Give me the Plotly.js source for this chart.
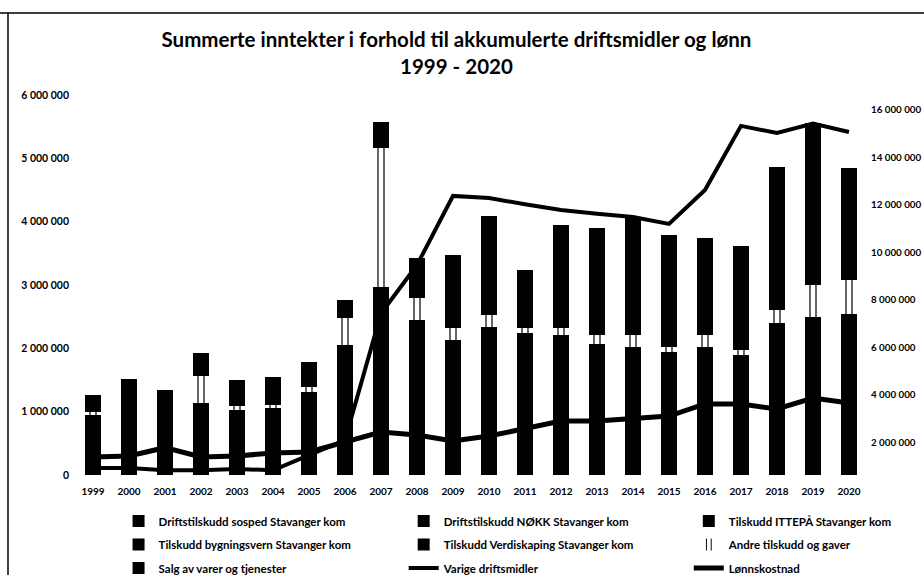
<!DOCTYPE html>
<html>
<head>
<meta charset="utf-8">
<script src="https://cdn.plot.ly/plotly-3.0.1.min.js"></script>
<style>html,body{margin:0;padding:0;background:#fff;}#chart{width:924px;height:575px;}</style>
</head>
<body>
<div id="chart"></div>
<script>
const years = ['1999','2000','2001','2002','2003','2004','2005','2006','2007','2008','2009','2010','2011','2012','2013','2014','2015','2016','2017','2018','2019','2020'];

const sosped       = [950000,1200000,1050000,1060000,1030000,1060000,1310000,1770000,2560000,2180000,2130000,2130000,2240000,2210000,2020000,2020000,1940000,2020000,1900000,2320000,2400000,2450000];
const nokk         = [0,0,0,0,0,0,0,150000,250000,150000,0,100000,0,0,50000,0,0,0,0,0,0,0];
const ittepa       = [0,0,0,0,0,0,0,130000,160000,120000,0,100000,0,0,0,0,0,0,0,0,0,0];
const bygningsvern = [0,0,0,80000,0,0,0,0,0,0,0,0,0,0,0,0,0,0,0,0,0,0];
const verdiskaping = [0,0,0,0,0,0,0,0,0,0,0,0,0,0,0,0,0,0,0,80000,100000,100000];
const andre        = [40000,0,0,430000,60000,50000,80000,430000,2200000,350000,190000,200000,80000,110000,140000,190000,80000,190000,80000,200000,500000,530000];
const salg         = [270000,320000,290000,350000,410000,430000,390000,280000,410000,630000,1150000,1560000,920000,1630000,1690000,1850000,1770000,1530000,1640000,2260000,2560000,1770000];

const varige       = [290000,300000,200000,200000,250000,200000,840000,1470000,6800000,8840000,11750000,11660000,11400000,11160000,11000000,10860000,10570000,12000000,14700000,14400000,14800000,14440000];
const lonn         = [760000,800000,1150000,760000,800000,930000,970000,1370000,1810000,1680000,1430000,1640000,1980000,2270000,2270000,2360000,2480000,2990000,2990000,2780000,3240000,3030000];

const leftTicks  = [0,1000000,2000000,3000000,4000000,5000000,6000000];
const rightTicks = [2000000,4000000,6000000,8000000,10000000,12000000,14000000,16000000];

const FONT = 'Lato, "Open Sans", sans-serif';
const black = '#000000';

function bar(name, y, legend, extra) {
  const t = {type:'bar', name:name, x:years, y:y, legend:legend, legendgroup:name,
    marker:{color:black, line:{width:0}}, hoverinfo:'skip'};
  if (extra) Object.assign(t.marker, extra);
  return t;
}

const traces = [
  bar('Driftstilskudd sosped Stavanger kom', sosped, 'legend'),
  bar('Driftstilskudd NØKK Stavanger kom', nokk, 'legend2'),
  bar('Tilskudd ITTEPÅ Stavanger kom', ittepa, 'legend3'),
  bar('Tilskudd bygningsvern Stavanger kom', bygningsvern, 'legend'),
  bar('Tilskudd Verdiskaping Stavanger kom', verdiskaping, 'legend2'),
  bar('Andre tilskudd og gaver', andre, 'legend3',
      {color:'#ffffff', pattern:{shape:'|', fgcolor:black, bgcolor:'#ffffff', size:6, solidity:0.2}}),
  bar('Salg av varer og tjenester', salg, 'legend'),
  {type:'scatter', mode:'lines', name:'Varige driftsmidler', x:years, y:varige, yaxis:'y2',
   legend:'legend2', legendgroup:'Varige', line:{color:black, width:4}, hoverinfo:'skip'},
  {type:'scatter', mode:'lines', name:'Lønnskostnad', x:years, y:lonn, yaxis:'y2',
   legend:'legend3', legendgroup:'Lonn', line:{color:black, width:5}, hoverinfo:'skip'}
];

const legendBase = {orientation:'v', yanchor:'top', xanchor:'left', y:-0.083,
  font:{family:FONT, size:11.5, color:black, weight:'bold'}, tracegroupgap:4.5,
  bgcolor:'rgba(0,0,0,0)', itemwidth:30, traceorder:'grouped'};

const layout = {
  width:924, height:575,
  margin:{l:75, r:57, t:95, b:100, autoexpand:false},
  paper_bgcolor:'#ffffff', plot_bgcolor:'#ffffff',
  separators:', ',
  barmode:'stack', bargap:0.58,
  font:{family:FONT, color:black, weight:'bold'},
  title:{text:'Summerte inntekter i forhold til akkumulerte driftsmidler og lønn<br>1999 - 2020',
    font:{family:FONT, size:20.5, color:black, weight:'bold'},
    xref:'container', x:0.494, xanchor:'center', yref:'container', y:0.918, yanchor:'top'},
  xaxis:{type:'category', showgrid:false, showline:false, zeroline:false, ticks:'', ticklabelstandoff:9,
    tickfont:{family:FONT, size:10, color:black, weight:'bold'}},
  yaxis:{range:[0,6000000], tickvals:leftTicks, tickformat:',d', showgrid:false, zeroline:false,
    showline:false, ticks:'', ticklabelstandoff:5,
    tickfont:{family:FONT, size:10.5, color:black, weight:'bold'}},
  yaxis2:{overlaying:'y', side:'right', range:[0,16000000], tickvals:rightTicks, tickformat:',d',
    showgrid:false, zeroline:false, showline:false, ticks:'', ticklabelshift:15, ticklabelstandoff:3,
    tickfont:{family:FONT, size:9.8, color:black, weight:'bold'}},
  legend:Object.assign({}, legendBase, {x:0.055}),
  legend2:Object.assign({}, legendBase, {x:0.415}),
  legend3:Object.assign({}, legendBase, {x:0.775}),
  showlegend:true,
  shapes:[
    {type:'line', xref:'paper', yref:'paper', x0:-0.0846, x1:-0.0846, y0:1.2158, y1:-0.27, line:{color:black, width:1.5}},
    {type:'line', xref:'paper', yref:'paper', x0:-0.095, x1:1.075, y0:1.2158, y1:1.2158, line:{color:black, width:1.5}}
  ]
};

Plotly.newPlot('chart', traces, layout, {staticPlot:true, displayModeBar:false});
</script>
</body>
</html>
